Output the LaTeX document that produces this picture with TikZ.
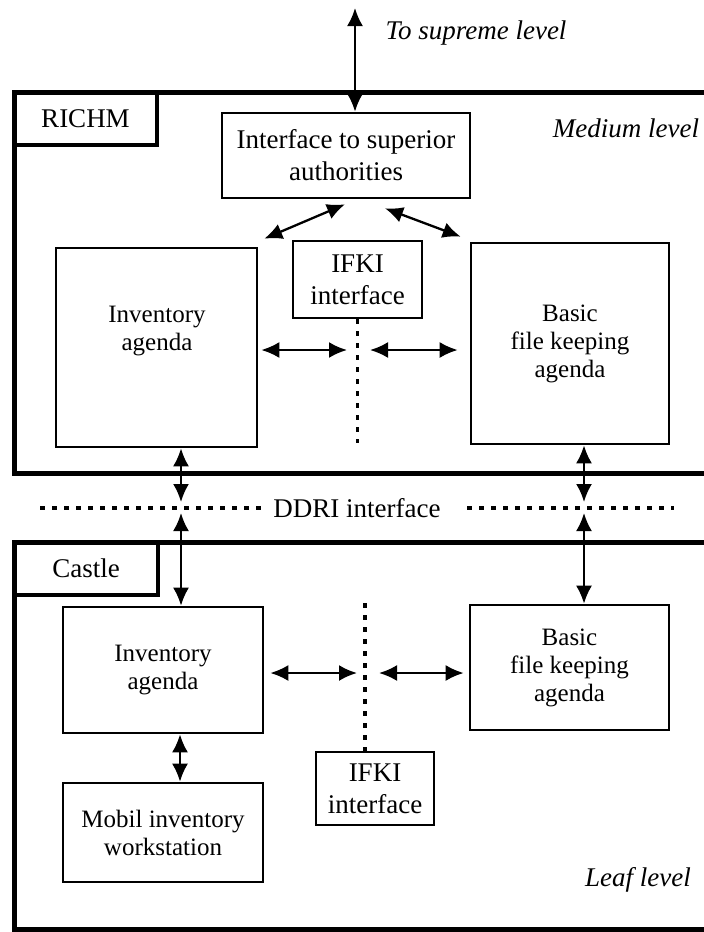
\documentclass[tikz,border=0pt]{standalone}
\usepackage{fontspec}
\setmainfont{Liberation Serif}
\usetikzlibrary{arrows.meta}
\begin{document}
\begin{tikzpicture}[x=1pt,y=-1pt,
  outer/.style={line width=5pt},
  box/.style={draw, line width=2.6pt, inner sep=0pt, align=center},
  big/.style={font=\fontsize{27}{32}\selectfont},
  small/.style={font=\fontsize{25}{28}\selectfont},
  lvl/.style={font=\fontsize{27}{32}\selectfont\itshape},
  dbl/.style={line width=2.3pt, {Latex[length=18pt,width=16pt]}-{Latex[length=18pt,width=16pt]}},
  dotline/.style={line width=3.2pt, dash pattern=on 4.5pt off 7.5pt}
]
\useasboundingbox (0,0) rectangle (704,932);
\fill[white] (0,0) rectangle (704,932);
\clip (0,0) rectangle (704,932);

% outer level frames
\draw[outer] (14,92) rectangle (730,473);
\draw[outer] (14,542) rectangle (730,929);

% frame labels
\node[draw, line width=4.5pt, minimum width=143pt, minimum height=53pt, inner sep=0pt, big] (richmlab) at (85.5,118.5) {RICHM};
\node[draw, line width=4.5pt, minimum width=144pt, minimum height=53pt, inner sep=0pt, big] (castlelab) at (86,568.5) {Castle};

% level texts
\node[lvl] (sup) at (476,33) {To supreme level};
\node[lvl] (med) at (626,128) {Medium level};
\node[lvl] (leaf) at (638,880) {Leaf level};
\node[big] (ddri) at (357,508) {DDRI interface};

% upper boxes
\node[box, minimum width=248pt, minimum height=85pt, big] (iface) at (346,155.5) {Interface to superior\\authorities};
\node[box, minimum width=201pt, minimum height=199pt] (invU) at (156.5,347.5) {};
\node[small, align=center] (invUt) at (157,331) {Inventory\\agenda};
\node[box, minimum width=129pt, minimum height=77pt, big] (ifkiU) at (357.5,279.5) {IFKI\\interface};
\node[box, minimum width=198pt, minimum height=201pt, small] (basicU) at (570,343.5) {Basic\\file keeping\\agenda};

% lower boxes
\node[box, minimum width=200pt, minimum height=126pt, small] (invL) at (163,670) {Inventory\\agenda};
\node[box, minimum width=199pt, minimum height=125pt, small] (basicL) at (569.5,667.5) {Basic\\file keeping\\agenda};
\node[box, minimum width=200pt, minimum height=99pt, small] (mobil) at (163,832.5) {Mobil inventory\\workstation};
\node[box, minimum width=118pt, minimum height=73pt, big] (ifkiL) at (375,788.5) {IFKI\\interface};

% coordinates
\coordinate (top) at (355,8);
\coordinate (dL1) at (40,508);
\coordinate (dL2) at (265,508);
\coordinate (dR1) at (467,508);
\coordinate (dR2) at (674,508);
\coordinate (vA1) at (181,502);
\coordinate (vA2) at (181,513);
\coordinate (vB1) at (584,502);
\coordinate (vB2) at (584,513);
\coordinate (vU) at (357.5,443);
\coordinate (vL) at (365,603);
\coordinate (hU1) at (347,350);
\coordinate (hU2) at (370,350);
\coordinate (hL1) at (357,673);
\coordinate (hL2) at (379,673);

% connectors
\draw[dbl] (top) -- (iface.north -| top);
\draw[dbl] ([shift={(-1,5)}]iface.south) -- ([shift={(6,-8)}]invU.north east);
\draw[dbl] ([shift={(39,9)}]iface.south) -- ([shift={(-9,-5)}]basicU.north west);
\draw[dbl, shorten <=3pt] (invU.east |- hU1) -- (hU1);
\draw[dbl, shorten >=12pt] (hU2) -- (basicU.west |- hU2);
\draw[dotline] (ifkiU.south) -- (vU);
\draw[dbl] (invU.south -| vA1) -- (vA1);
\draw[dbl] (basicU.south -| vB1) -- (vB1);
\draw[dotline] (dL1) -- (dL2);
\draw[dotline] (dR1) -- (dR2);
\draw[dbl] (vA2) -- (invL.north -| vA2);
\draw[dbl] (vB2) -- (basicL.north -| vB2);
\draw[dotline] (vL) -- (ifkiL.north -| vL);
\draw[dbl, shorten <=6pt] (invL.east |- hL1) -- (hL1);
\draw[dbl, shorten >=5pt] (hL2) -- (basicL.west |- hL2);
\draw[dbl] ([xshift=17pt]invL.south) -- ([xshift=17pt]mobil.north);
\end{tikzpicture}
\end{document}
